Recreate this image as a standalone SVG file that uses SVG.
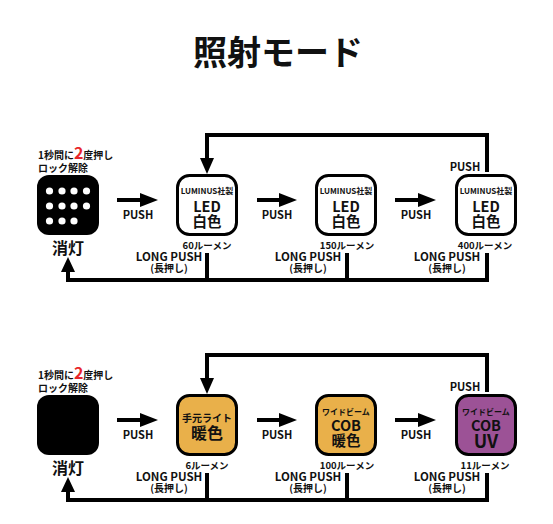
<svg xmlns="http://www.w3.org/2000/svg" width="553" height="524" viewBox="0 0 553 524">
<defs>
<style>
text{font-family:"Noto Sans CJK JP","Noto Sans",sans-serif;font-weight:bold;fill:#111;text-anchor:middle}
.t{font-size:34px}
.s{font-size:10px}
.xs{font-size:8px}
.lum{font-size:9.5px}
.big{font-size:14.5px}
.off{font-size:16px}
.lbl{font-size:11px}
.lp{font-size:11.5px}
.ln{fill:none;stroke:#000;stroke-width:4}
.box{stroke:#000;stroke-width:3}
.hd{fill:#000}
</style>
</defs>
<rect width="553" height="524" fill="#fff"/>
<text class="t" x="278" y="65">照射モード</text>

<g id="top">
<g id="connectors-top">
<path class="ln" d="M117,200 H142"/><path class="hd" d="M140,193 L158,200 L140,207 Z"/>
<path class="ln" d="M257,200 H281"/><path class="hd" d="M279,193 L297,200 L279,207 Z"/>
<path class="ln" d="M395,200 H420"/><path class="hd" d="M418,193 L436,200 L418,207 Z"/>
<path class="ln" d="M487,172 V135 H207 V160"/><path class="hd" d="M200,158 L207,174 L214,158 Z"/>
<path class="ln" d="M207,253 V280 M347,253 V280 M487,253 V280 M489,280 H68 V270"/><path class="hd" d="M61,272 L68,257 L75,272 Z"/>
</g>
<g id="off1">
<text class="s" x="38" y="159" style="text-anchor:start">1秒間に<tspan style="fill:#e8262a;font-size:16px">2</tspan>度押し</text>
<text class="s" x="38" y="172" style="text-anchor:start">ロック解除</text>
<rect x="37" y="175" width="62" height="60" rx="12" fill="#000"/>
<g fill="#fff">
<circle cx="49.5" cy="191" r="3.6"/><circle cx="62" cy="191" r="3.6"/><circle cx="74" cy="191" r="3.6"/><circle cx="86.5" cy="191" r="3.6"/>
<circle cx="49.5" cy="206" r="3.6"/><circle cx="62" cy="206" r="3.6"/><circle cx="74" cy="206" r="3.6"/><circle cx="86.5" cy="206" r="3.6"/>
<circle cx="49.5" cy="221" r="3.6"/><circle cx="62" cy="221" r="3.6"/><circle cx="74" cy="221" r="3.6"/>
</g>
<text class="off" x="68" y="254">消灯</text>
</g>
<g id="led60">
<rect class="box" x="177.5" y="175.5" width="59" height="59" rx="12" fill="#fff"/>
<text class="xs" x="207" y="194">LUMINUS社製</text>
<text class="big" x="207" y="212">LED</text>
<text class="big" x="207" y="227">白色</text>
<text class="lum" x="207" y="249">60ルーメン</text>
</g>
<g id="led150">
<rect class="box" x="316.5" y="175.5" width="59" height="59" rx="12" fill="#fff"/>
<text class="xs" x="346" y="194">LUMINUS社製</text>
<text class="big" x="346" y="212">LED</text>
<text class="big" x="346" y="227">白色</text>
<text class="lum" x="347" y="249">150ルーメン</text>
</g>
<g id="led400">
<rect class="box" x="456.5" y="175.5" width="59" height="59" rx="12" fill="#fff"/>
<text class="xs" x="486" y="194">LUMINUS社製</text>
<text class="big" x="486" y="212">LED</text>
<text class="big" x="486" y="227">白色</text>
<text class="lum" x="485" y="249">400ルーメン</text>
</g>
<g id="labels-top">
<text class="lbl" x="138" y="219">PUSH</text>
<text class="lbl" x="277" y="219">PUSH</text>
<text class="lbl" x="416" y="219">PUSH</text>
<text class="lbl" x="465" y="171">PUSH</text>
<text class="lp" x="169" y="261">LONG PUSH</text>
<text class="s" x="169" y="272">(長押し)</text>
<text class="lp" x="308" y="261">LONG PUSH</text>
<text class="s" x="308" y="272">(長押し)</text>
<text class="lp" x="447" y="261">LONG PUSH</text>
<text class="s" x="447" y="272">(長押し)</text>
</g>
</g>

<g id="bottom" transform="translate(0,220)">
<g id="connectors-bottom">
<path class="ln" d="M117,200 H142"/><path class="hd" d="M140,193 L158,200 L140,207 Z"/>
<path class="ln" d="M257,200 H281"/><path class="hd" d="M279,193 L297,200 L279,207 Z"/>
<path class="ln" d="M395,200 H420"/><path class="hd" d="M418,193 L436,200 L418,207 Z"/>
<path class="ln" d="M487,172 V135 H207 V160"/><path class="hd" d="M200,158 L207,174 L214,158 Z"/>
<path class="ln" d="M207,253 V280 M347,253 V280 M487,253 V280 M489,280 H68 V270"/><path class="hd" d="M61,272 L68,257 L75,272 Z"/>
</g>
<g id="off2">
<text class="s" x="38" y="159" style="text-anchor:start">1秒間に<tspan style="fill:#e8262a;font-size:16px">2</tspan>度押し</text>
<text class="s" x="38" y="172" style="text-anchor:start">ロック解除</text>
<rect x="37" y="175" width="62" height="60" rx="12" fill="#000"/>
<text class="off" x="68" y="254">消灯</text>
</g>
<g id="warm6">
<rect class="box" x="177.5" y="175.5" width="59" height="59" rx="12" fill="#e9b04a"/>
<text class="s" x="207" y="202">手元ライト</text>
<text class="big" x="207" y="219" style="font-size:16px">暖色</text>
<text class="lum" x="207" y="249">6ルーメン</text>
</g>
<g id="cob100">
<rect class="box" x="316.5" y="175.5" width="59" height="59" rx="12" fill="#e9b04a"/>
<text class="xs" x="346" y="195">ワイドビーム</text>
<text class="big" x="346" y="211">COB</text>
<text class="big" x="346" y="226">暖色</text>
<text class="lum" x="347" y="249">100ルーメン</text>
</g>
<g id="uv11">
<rect class="box" x="456.5" y="175.5" width="59" height="59" rx="12" fill="#9c5296"/>
<text class="xs" x="486" y="195">ワイドビーム</text>
<text class="big" x="486" y="211">COB</text>
<text x="486" y="228" style="font-size:18px">UV</text>
<text class="lum" x="485" y="249">11ルーメン</text>
</g>
<g id="labels-bottom">
<text class="lbl" x="138" y="219">PUSH</text>
<text class="lbl" x="277" y="219">PUSH</text>
<text class="lbl" x="416" y="219">PUSH</text>
<text class="lbl" x="465" y="171">PUSH</text>
<text class="lp" x="169" y="261">LONG PUSH</text>
<text class="s" x="169" y="272">(長押し)</text>
<text class="lp" x="308" y="261">LONG PUSH</text>
<text class="s" x="308" y="272">(長押し)</text>
<text class="lp" x="447" y="261">LONG PUSH</text>
<text class="s" x="447" y="272">(長押し)</text>
</g>
</g>
</svg>
